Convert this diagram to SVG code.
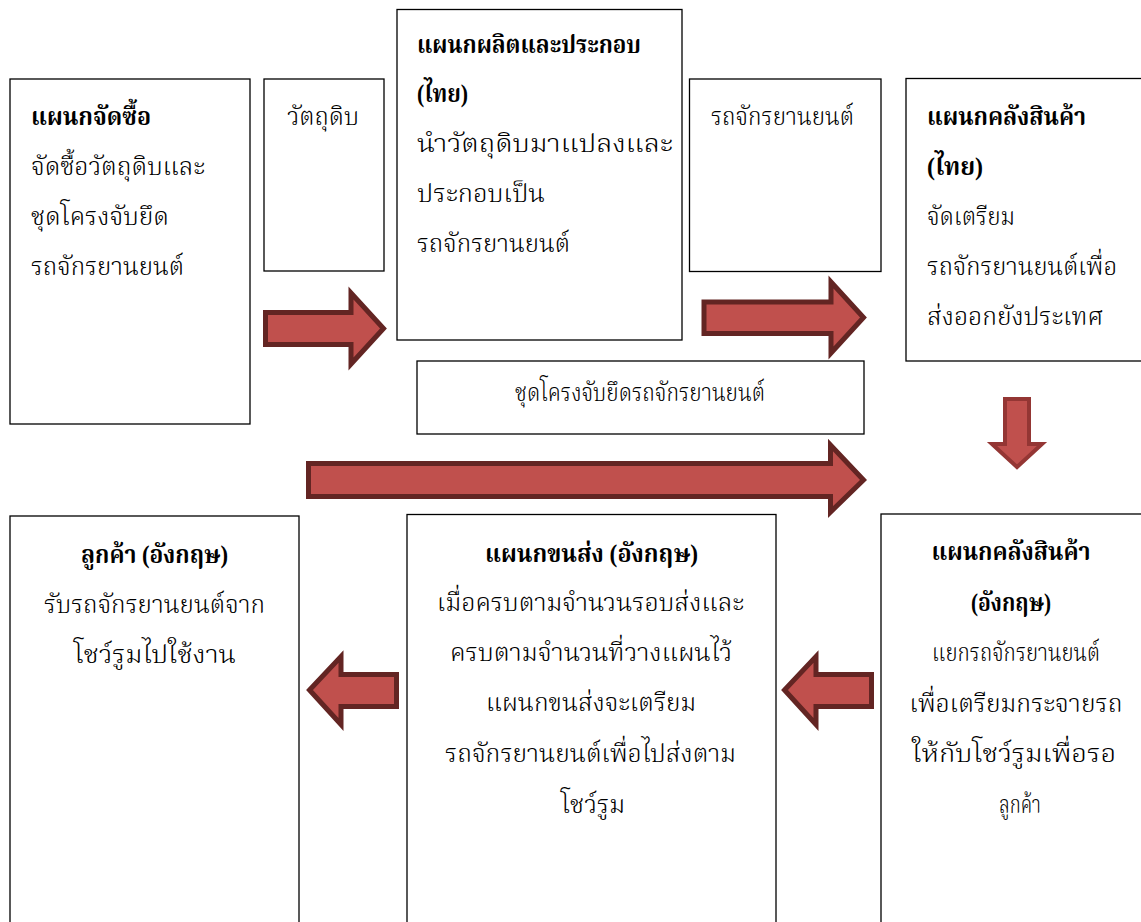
<svg xmlns="http://www.w3.org/2000/svg" width="1141" height="922" viewBox="0 0 1141 922">
<style>
.box{fill:#fff;stroke:#000;stroke-width:1.3}
text{font-family:'Liberation Serif','Noto Serif Thai','Noto Sans Thai','Noto Sans',serif;font-size:25px;fill:#000;font-weight:300}
.b{font-weight:bold}
.c{text-anchor:middle}
.arr{fill:#C0504D;stroke:#632523;stroke-width:5;stroke-linejoin:miter}
.arr2{fill:#C0504D;stroke:#943634;stroke-width:4;stroke-linejoin:miter}
</style>
<rect width="1141" height="922" fill="#fff"/>
<g id="connectors">
<polygon class="arr" points="265.5,312.5 351,312.5 351,293 383.5,328.5 351,364 351,344.5 265.5,344.5"/>
<polygon class="arr" points="704,302 831,302 831,282 863.5,317.5 831,353 831,333.5 704,333.5"/>
<polygon class="arr" points="308.5,463.5 830.5,463.5 830.5,445 863.5,480 830.5,512 830.5,496.5 308.5,496.5"/>
<polygon class="arr2" points="1005,399 1029,399 1029,444 1042,444 1017,467 992,444 1005,444"/>
<polygon class="arr" points="871.5,674.5 816,674.5 816,656.5 784.5,690 816,724.5 816,706.5 871.5,706.5"/>
<polygon class="arr" points="396.5,674.5 341,674.5 341,656.5 309.5,690 341,724.5 341,706.5 396.5,706.5"/>
</g>
<g id="purchasing">
<rect class="box" x="10" y="79" width="240" height="345"/>
<text class="b" x="31" y="125" textLength="120" lengthAdjust="spacingAndGlyphs">แผนกจัดซื้อ</text>
<text x="31" y="175" textLength="174" lengthAdjust="spacingAndGlyphs">จัดซื้อวัตถุดิบและ</text>
<text x="31" y="225" textLength="138" lengthAdjust="spacingAndGlyphs">ชุดโครงจับยึด</text>
<text x="31" y="275" textLength="153" lengthAdjust="spacingAndGlyphs">รถจักรยานยนต์</text>
</g>
<g id="raw">
<rect class="box" x="264" y="79" width="120" height="192"/>
<text x="287" y="125" textLength="72" lengthAdjust="spacingAndGlyphs">วัตถุดิบ</text>
</g>
<g id="production">
<rect class="box" x="397" y="9.5" width="285" height="330.5"/>
<text class="b" x="417" y="53" textLength="224" lengthAdjust="spacingAndGlyphs">แผนกผลิตและประกอบ</text>
<text class="b" x="417" y="102" textLength="51" lengthAdjust="spacingAndGlyphs">(ไทย)</text>
<text x="417" y="152" textLength="256" lengthAdjust="spacingAndGlyphs">นำวัตถุดิบมาแปลงและ</text>
<text x="417" y="202" textLength="128" lengthAdjust="spacingAndGlyphs">ประกอบเป็น</text>
<text x="417" y="252" textLength="153" lengthAdjust="spacingAndGlyphs">รถจักรยานยนต์</text>
</g>
<g id="motorcycle">
<rect class="box" x="689.5" y="79" width="191.5" height="192.5"/>
<text x="711" y="125" textLength="143" lengthAdjust="spacingAndGlyphs">รถจักรยานยนต์</text>
</g>
<g id="warehouse-th">
<rect class="box" x="906" y="78.5" width="245" height="282.5"/>
<text class="b" x="927" y="125" textLength="159" lengthAdjust="spacingAndGlyphs">แผนกคลังสินค้า</text>
<text class="b" x="927" y="175" textLength="56" lengthAdjust="spacingAndGlyphs">(ไทย)</text>
<text x="927" y="225" textLength="88" lengthAdjust="spacingAndGlyphs">จัดเตรียม</text>
<text x="927" y="275" textLength="190" lengthAdjust="spacingAndGlyphs">รถจักรยานยนต์เพื่อ</text>
<text x="927" y="325" textLength="176" lengthAdjust="spacingAndGlyphs">ส่งออกยังประเทศ</text>
</g>
<g id="frame">
<rect class="box" x="417" y="361" width="447" height="73"/>
<text x="515" y="401" textLength="250" lengthAdjust="spacingAndGlyphs">ชุดโครงจับยึดรถจักรยานยนต์</text>
</g>
<g id="warehouse-uk">
<rect class="box" x="881" y="514" width="270" height="420"/>
<text class="b c" x="1011" y="560" textLength="159" lengthAdjust="spacingAndGlyphs">แผนกคลังสินค้า</text>
<text class="b c" x="1011" y="611" textLength="80" lengthAdjust="spacingAndGlyphs">(อังกฤษ)</text>
<text class="c" x="1016" y="661" textLength="168" lengthAdjust="spacingAndGlyphs">แยกรถจักรยานยนต์</text>
<text class="c" x="1016" y="712" textLength="213" lengthAdjust="spacingAndGlyphs">เพื่อเตรียมกระจายรถ</text>
<text class="c" x="1014" y="762" textLength="204" lengthAdjust="spacingAndGlyphs">ให้กับโชว์รูมเพื่อรอ</text>
<text class="c" x="1020" y="813" textLength="42" lengthAdjust="spacingAndGlyphs">ลูกค้า</text>
</g>
<g id="shipping">
<rect class="box" x="407" y="514.5" width="369" height="420"/>
<text class="b c" x="591.5" y="562" textLength="213" lengthAdjust="spacingAndGlyphs">แผนกขนส่ง (อังกฤษ)</text>
<text class="c" x="590.5" y="611" textLength="307" lengthAdjust="spacingAndGlyphs">เมื่อครบตามจำนวนรอบส่งและ</text>
<text class="c" x="591" y="661" textLength="282" lengthAdjust="spacingAndGlyphs">ครบตามจำนวนที่วางแผนไว้</text>
<text class="c" x="591" y="711" textLength="210" lengthAdjust="spacingAndGlyphs">แผนกขนส่งจะเตรียม</text>
<text class="c" x="590.5" y="762" textLength="291" lengthAdjust="spacingAndGlyphs">รถจักรยานยนต์เพื่อไปส่งตาม</text>
<text class="c" x="593" y="813" textLength="64" lengthAdjust="spacingAndGlyphs">โชว์รูม</text>
</g>
<g id="customer">
<rect class="box" x="10" y="516" width="289" height="420"/>
<text class="b c" x="154.5" y="563" textLength="147" lengthAdjust="spacingAndGlyphs">ลูกค้า (อังกฤษ)</text>
<text class="c" x="154.5" y="613" textLength="221" lengthAdjust="spacingAndGlyphs">รับรถจักรยานยนต์จาก</text>
<text class="c" x="155" y="663" textLength="162" lengthAdjust="spacingAndGlyphs">โชว์รูมไปใช้งาน</text>
</g>
</svg>
